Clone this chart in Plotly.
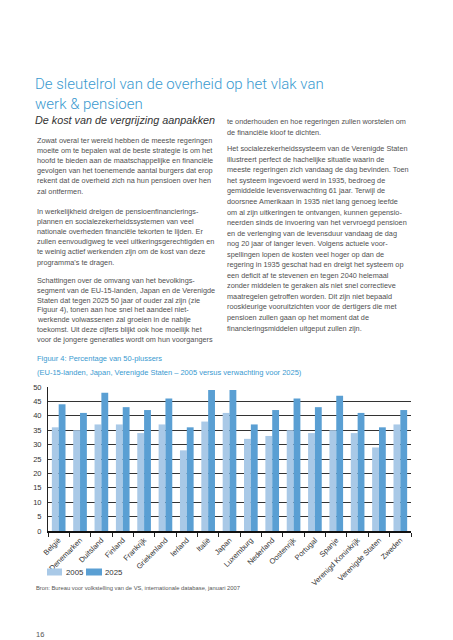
import plotly.graph_objects as go

# ---------------- data ----------------
categories = ["België", "Denemarken", "Duitsland", "Finland", "Frankrijk", "Griekenland",
              "Ierland", "Italië", "Japan", "Luxemburg", "Nederland", "Oostenrijk",
              "Portugal", "Spanje", "Verenigd Koninkrijk", "Verenigde Staten", "Zweden"]
values_2005 = [36, 35, 37, 37, 34, 37, 28, 38, 41, 32, 33, 35, 34, 35, 34, 29, 37]
values_2025 = [44, 41, 48, 43, 42, 46, 36, 49, 49, 37, 42, 46, 43, 47, 41, 36, 42]
y_tick_values = [0, 5, 10, 15, 20, 25, 30, 35, 40, 45, 50]
series_names = ["2005", "2025"]

title_lines = ["De sleutelrol van de overheid op het vlak van", "werk &amp; pensioen"]
subtitle = "De kost van de vergrijzing aanpakken"
left_paragraphs = [
    ["Zowat overal ter wereld hebben de meeste regeringen",
     "moeite om te bepalen wat de beste strategie is om het",
     "hoofd te bieden aan de maatschappelijke en financiële",
     "gevolgen van het toenemende aantal burgers dat erop",
     "rekent dat de overheid zich na hun pensioen over hen",
     "zal ontfermen."],
    ["In werkelijkheid dreigen de pensioenfinancierings-",
     "plannen en socialezekerheidssystemen van veel",
     "nationale overheden financiële tekorten te lijden. Er",
     "zullen eenvoudigweg te veel uitkeringsgerechtigden en",
     "te weinig actief werkenden zijn om de kost van deze",
     "programma's te dragen."],
    ["Schattingen over de omvang van het bevolkings-",
     "segment van de EU-15-landen, Japan en de Verenigde",
     "Staten dat tegen 2025 50 jaar of ouder zal zijn (zie",
     "Figuur 4), tonen aan hoe snel het aandeel niet-",
     "werkende volwassenen zal groeien in de nabije",
     "toekomst. Uit deze cijfers blijkt ook hoe moeilijk het",
     "voor de jongere generaties wordt om hun voorgangers"],
]
right_paragraphs = [
    ["te onderhouden en hoe regeringen zullen worstelen om",
     "de financiële kloof te dichten."],
    ["Het socialezekerheidssysteem van de Verenigde Staten",
     "illustreert perfect de hachelijke situatie waarin de",
     "meeste regeringen zich vandaag de dag bevinden. Toen",
     "het systeem ingevoerd werd in 1935, bedroeg de",
     "gemiddelde levensverwachting 61 jaar. Terwijl de",
     "doorsnee Amerikaan in 1935 niet lang genoeg leefde",
     "om al zijn uitkeringen te ontvangen, kunnen gepensio-",
     "neerden sinds de invoering van het vervroegd pensioen",
     "en de verlenging van de levensduur vandaag de dag",
     "nog 20 jaar of langer leven. Volgens actuele voor-",
     "spellingen lopen de kosten veel hoger op dan de",
     "regering in 1935 geschat had en dreigt het systeem op",
     "een deficit af te stevenen en tegen 2040 helemaal",
     "zonder middelen te geraken als niet snel correctieve",
     "maatregelen getroffen worden. Dit zijn niet bepaald",
     "rooskleurige vooruitzichten voor de dertigers die met",
     "pensioen zullen gaan op het moment dat de",
     "financieringsmiddelen uitgeput zullen zijn."],
]
figure_caption = ["Figuur 4: Percentage van 50-plussers",
                  "(EU-15-landen, Japan, Verenigde Staten – 2005 versus verwachting voor 2025)"]
source_text = "Bron: Bureau voor volkstelling van de VS, internationale database, januari 2007"
page_number = "16"

# ---------------- layout constants ----------------
W, H = 453, 640
PL, PR, PT, PB = 40, 403, 379, 523
C_2005 = "#a9c9e7"
C_2025 = "#5a9fd3"
BLUE = "#3a9ad0"
TXT = "#505050"
FONT = "Liberation Sans, Arial, sans-serif"
TITLE_FONT = "Roboto, Liberation Sans, sans-serif"


def px(x, y):
    return (x - PL) / (PR - PL), (PB - y) / (PB - PT)


annotations = []


def add_text(text, x, y, size, color=TXT, family=FONT, weight=None):
    xp, yp = px(x, y)
    f = dict(family=family, size=size, color=color)
    if weight is not None:
        f["weight"] = weight
    annotations.append(dict(text=text, x=xp, y=yp, xref="paper", yref="paper",
                            xanchor="left", yanchor="middle", showarrow=False,
                            borderpad=0, font=f))


# title & subtitle
add_text(title_lines[0], 26, 75.5, 15.0, BLUE, TITLE_FONT, 300)
add_text(title_lines[1], 26, 95.5, 15.0, BLUE, TITLE_FONT, 300)
add_text("<i>" + subtitle + "</i>", 26, 112, 10.8, "#333333")

# left column
LX = 28
left_starts = [132.5, 203.0, 272.5]
left_steps = [10.1, 10.2, 9.75]
for para, y0, st in zip(left_paragraphs, left_starts, left_steps):
    for i, line in enumerate(para):
        add_text(line, LX, y0 + i * st, 7.3)

# right column
RX = 218
right_starts = [113.5, 140.7]
right_steps = [10.55, 10.55]
for para, y0, st in zip(right_paragraphs, right_starts, right_steps):
    for i, line in enumerate(para):
        add_text(line, RX, y0 + i * st, 7.3)

# figure caption
add_text(figure_caption[0], LX, 350, 7.5, BLUE)
add_text(figure_caption[1], LX, 364, 7.5, BLUE)

# legend (custom)
shapes = []
for (x0, x1, col) in [(39, 54, C_2005), (78, 94, C_2025)]:
    a0, b0 = px(x0, 567.5)
    a1, b1 = px(x1, 560.5)
    shapes.append(dict(type="rect", xref="paper", yref="paper", x0=a0, x1=a1, y0=b0, y1=b1,
                       fillcolor=col, line=dict(width=0), layer="above"))
add_text(series_names[0], 56.5, 564, 7.8, "#333333")
add_text(series_names[1], 96, 564, 7.8, "#333333")

# source & page number
add_text(source_text, 27, 580, 5.8, "#555555")
add_text(page_number, 27, 626, 7.5, "#555555")

fig = go.Figure()
fig.add_trace(go.Bar(x=categories, y=values_2005, name=series_names[0],
                     marker=dict(color=C_2005, line=dict(width=0)), showlegend=False))
fig.add_trace(go.Bar(x=categories, y=values_2025, name=series_names[1],
                     marker=dict(color=C_2025, line=dict(width=0)), showlegend=False))

fig.update_layout(
    width=W, height=H,
    margin=dict(l=PL, r=W - PR, t=PT, b=H - PB, pad=0),
    paper_bgcolor="white", plot_bgcolor="white",
    barmode="group", bargap=0.36, bargroupgap=0.0,
    font=dict(family=FONT, size=7.5, color="#333333"),
    annotations=annotations, shapes=shapes,
    xaxis=dict(type="category", tickangle=-45, ticks="outside", tickson="boundaries",
               ticklen=4, tickcolor="#222222", tickwidth=1,
               showline=True, linecolor="#111111", linewidth=2,
               showgrid=False, tickfont=dict(size=7.5, color="#333333")),
    yaxis=dict(range=[0, 50], tickvals=y_tick_values, showgrid=True, gridcolor="#333333",
               gridwidth=1, zeroline=False, showline=True, linecolor="#222222", linewidth=1,
               ticks="", ticklabelstandoff=4, tickfont=dict(size=7.5, color="#333333")),
)

fig.write_html("out.html")
